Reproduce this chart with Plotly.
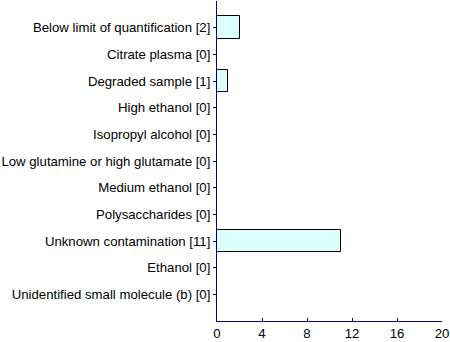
import plotly.graph_objects as go

categories = [
    "Below limit of quantification [2]",
    "Citrate plasma [0]",
    "Degraded sample [1]",
    "High ethanol [0]",
    "Isopropyl alcohol [0]",
    "Low glutamine or high glutamate [0]",
    "Medium ethanol [0]",
    "Polysaccharides [0]",
    "Unknown contamination [11]",
    "Ethanol [0]",
    "Unidentified small molecule (b) [0]",
]
counts = [2, 0, 1, 0, 0, 0, 0, 0, 11, 0, 0]
x_ticks = [0, 4, 8, 12, 16, 20]

fig = go.Figure(go.Bar(
    x=counts, y=categories, orientation="h",
    width=0.85,
    marker=dict(color="#dcffff", line=dict(color="black", width=1)),
))

font = dict(family="Liberation Sans, Arial, sans-serif", size=13.2, color="black")
fig.update_layout(
    width=450, height=342,
    margin=dict(l=215, r=8, t=1, b=17),
    plot_bgcolor="white", paper_bgcolor="white",
    showlegend=False, font=font,
    bargap=0,
)
fig.update_xaxes(
    range=[0, 20], tickvals=x_ticks, showgrid=False, zeroline=False,
    showline=True, linecolor="#000080", linewidth=1,
    ticks="inside", ticklen=3, tickcolor="#000080",
    tickfont=font, fixedrange=True,
)
fig.update_yaxes(
    type="category", categoryorder="array", categoryarray=categories,
    range=[len(categories), -1], showgrid=False, zeroline=False,
    showline=True, linecolor="#000080", linewidth=1,
    ticks="outside", ticklen=3, tickcolor="#000080",
    tickfont=font, fixedrange=True,
)

fig.write_html("out.html")
